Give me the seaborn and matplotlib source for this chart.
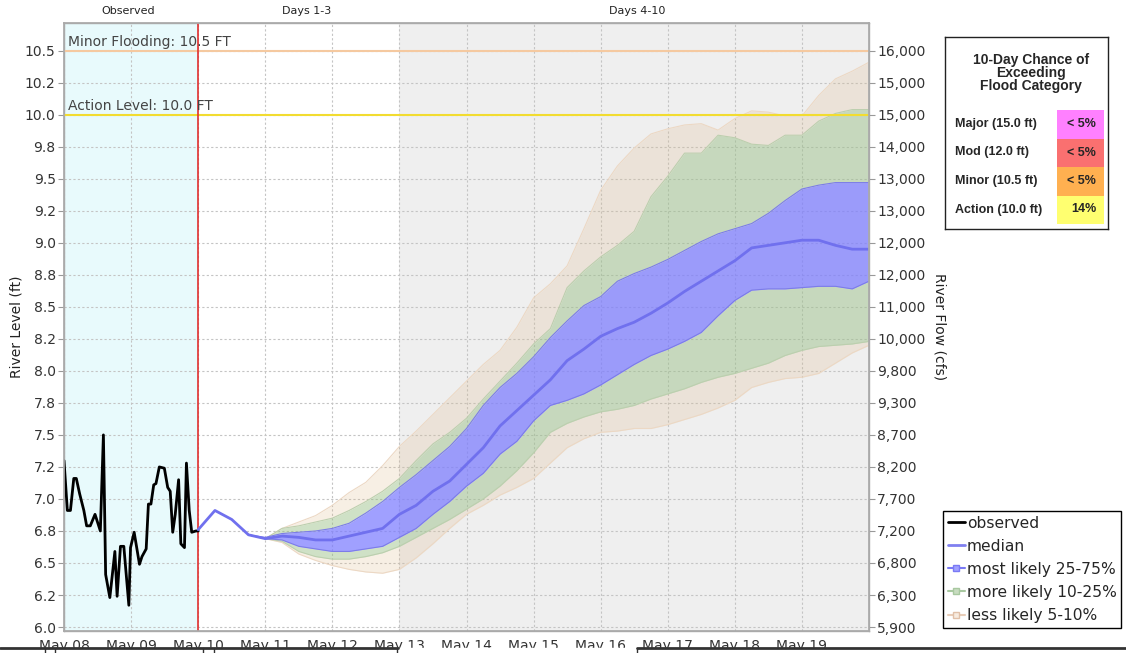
import pandas as pd
import numpy as np
import matplotlib
matplotlib.use("Agg")
import matplotlib.pyplot as plt
import matplotlib.dates as mdates
from matplotlib.patches import Rectangle
from matplotlib.lines import Line2D
import seaborn as sns

sns.set_theme(style="white")
plt.rcParams["font.family"] = ["DejaVu Sans"]

obs_start = pd.Timestamp("2024-05-08")
obs_hours = [0, 1.2, 2.3, 3.5, 4.4, 5.6, 7.1, 8.1, 9.4, 11.1, 13.0, 14.1, 14.9, 16.4,
             18.2, 19.0, 20.2, 21.4, 23.2, 23.8, 25.1, 27.0, 27.9, 29.4, 30.2, 31.1,
             32.1, 32.9, 34.1, 35.9, 37.1, 38.0, 38.9, 39.8, 41.0, 41.8, 43.1, 43.8,
             44.8, 45.7, 47.2, 48.0]
obs_level = [7.30, 6.91, 6.91, 7.16, 7.16, 7.04, 6.91, 6.79, 6.79, 6.88, 6.75, 7.50,
             6.41, 6.23, 6.59, 6.24, 6.63, 6.63, 6.17, 6.62, 6.74, 6.49, 6.55, 6.61,
             6.96, 6.96, 7.11, 7.12, 7.25, 7.24, 7.09, 7.06, 6.74, 6.88, 7.15, 6.65,
             6.62, 7.28, 6.91, 6.74, 6.75, 6.75]

fc_start = pd.Timestamp("2024-05-10")
median = [6.76, 6.91, 6.84, 6.72, 6.69, 6.71, 6.70, 6.68, 6.68, 6.71, 6.74, 6.77,
          6.88, 6.95, 7.06, 7.14, 7.27, 7.40, 7.57, 7.69, 7.81, 7.93, 8.08, 8.17,
          8.27, 8.33, 8.38, 8.45, 8.53, 8.62, 8.70, 8.78, 8.86, 8.96, 8.98, 9.00,
          9.02, 9.02, 8.98, 8.95, 8.95]

# bands begin at May 10 18:00 (4th forecast step)
p95 = [6.72, 6.69, 6.77, 6.82, 6.87, 6.95, 7.05, 7.13, 7.26, 7.41, 7.53, 7.66, 7.79,
       7.92, 8.05, 8.16, 8.34, 8.57, 8.68, 8.82, 9.11, 9.41, 9.60, 9.74, 9.85, 9.89,
       9.92, 9.93, 9.88, 9.97, 10.03, 10.02, 9.99, 9.99, 10.15, 10.28, 10.34, 10.41]
p90 = [6.72, 6.69, 6.77, 6.79, 6.82, 6.85, 6.91, 6.98, 7.06, 7.16, 7.30, 7.43, 7.52,
       7.63, 7.78, 7.92, 8.06, 8.21, 8.33, 8.65, 8.78, 8.89, 8.98, 9.09, 9.36, 9.52,
       9.70, 9.70, 9.84, 9.82, 9.77, 9.76, 9.84, 9.84, 9.95, 10.01, 10.04, 10.04]
p75 = [6.72, 6.70, 6.73, 6.74, 6.75, 6.77, 6.81, 6.89, 6.98, 7.09, 7.19, 7.30, 7.41,
       7.55, 7.73, 7.87, 7.98, 8.11, 8.26, 8.39, 8.51, 8.58, 8.70, 8.76, 8.81, 8.87,
       8.94, 9.01, 9.07, 9.11, 9.15, 9.23, 9.33, 9.42, 9.45, 9.47, 9.47, 9.47]
p25 = [6.72, 6.69, 6.68, 6.63, 6.61, 6.59, 6.59, 6.61, 6.63, 6.70, 6.77, 6.88, 6.98,
       7.10, 7.20, 7.35, 7.45, 7.61, 7.73, 7.77, 7.82, 7.89, 7.97, 8.05, 8.12, 8.17,
       8.23, 8.30, 8.43, 8.55, 8.63, 8.64, 8.64, 8.65, 8.66, 8.66, 8.64, 8.70]
p10 = [6.72, 6.69, 6.67, 6.59, 6.55, 6.53, 6.53, 6.55, 6.58, 6.63, 6.70, 6.77, 6.84,
       6.92, 7.00, 7.10, 7.22, 7.36, 7.52, 7.59, 7.64, 7.68, 7.70, 7.73, 7.78, 7.82,
       7.86, 7.91, 7.95, 7.98, 8.02, 8.06, 8.12, 8.16, 8.19, 8.20, 8.21, 8.23]
p05 = [6.72, 6.69, 6.66, 6.57, 6.52, 6.48, 6.45, 6.43, 6.42, 6.45, 6.54, 6.65, 6.77,
       6.88, 6.95, 7.03, 7.09, 7.16, 7.28, 7.40, 7.47, 7.52, 7.53, 7.55, 7.55, 7.58,
       7.62, 7.66, 7.71, 7.77, 7.87, 7.91, 7.94, 7.95, 7.98, 8.06, 8.14, 8.20]

level_ticks = np.arange(6.0, 10.51, 0.25)
flow_labels = ["5,900", "6,300", "6,800", "7,200", "7,700", "8,200", "8,700", "9,300",
               "9,800", "10,000", "11,000", "12,000", "12,000", "13,000", "13,000",
               "14,000", "15,000", "15,000", "16,000"]

minor_flood = 10.5
action_level = 10.0

cat_labels = ["Major (15.0 ft)", "Mod (12.0 ft)", "Minor (10.5 ft)", "Action (10.0 ft)"]
cat_chance = ["< 5%", "< 5%", "< 5%", "14%"]
cat_colors = ["#ff80ff", "#fa7070", "#ffb050", "#ffff70"]

# ---- frames ----
obs = pd.DataFrame({"time": obs_start + pd.to_timedelta(obs_hours, unit="h"),
                    "level": obs_level})
fc_time = pd.date_range(fc_start, periods=len(median), freq="6h")
fc = pd.DataFrame({"time": fc_time, "level": median})
bt = fc_time[len(median) - len(p95):]

fig = plt.figure(figsize=(11.26, 6.53), dpi=100)
ax = fig.add_axes([64 / 1126, 1 - 631 / 653, (869 - 64) / 1126, (631 - 23) / 653])

t0 = pd.Timestamp("2024-05-08")
t_now = pd.Timestamp("2024-05-10")
t_d4 = pd.Timestamp("2024-05-13")
t_end = pd.Timestamp("2024-05-20")

ax.axvspan(t0, t_now, color="#e8fafc", lw=0, zorder=0)
ax.axvspan(t_d4, t_end, color="#efefef", lw=0, zorder=0)
ax.set_axisbelow(True)
ax.grid(True, linestyle=(0, (2, 2)), color="#c4c4c4", lw=0.8)

# probability bands
tan, green, blue = "#deb887", "#96be82", "#7b7bff"
ax.fill_between(bt, p05, p10, color=tan, alpha=0.22, lw=0, zorder=2)
ax.fill_between(bt, p90, p95, color=tan, alpha=0.22, lw=0, zorder=2)
ax.fill_between(bt, p10, p25, color=green, alpha=0.45, lw=0, zorder=2)
ax.fill_between(bt, p75, p90, color=green, alpha=0.45, lw=0, zorder=2)
ax.fill_between(bt, p25, p75, color=blue, alpha=0.72, lw=0, zorder=2)
for s, c in [(p05, "#ecd8c4"), (p95, "#ecd8c4"), (p10, "#bccfae"), (p90, "#bccfae"),
             (p25, "#7c7ce8"), (p75, "#7c7ce8")]:
    ax.plot(bt, s, color=c, lw=0.8, zorder=3)

ax.axhline(minor_flood, color="#f5c9a0", lw=1.5, zorder=3)
ax.axhline(action_level, color="#f2dc30", lw=1.5, zorder=3)
ax.axvline(t_now, color="#e03030", lw=1.2, zorder=4)

sns.lineplot(data=obs, x="time", y="level", color="black", lw=2, ax=ax, zorder=5)
sns.lineplot(data=fc, x="time", y="level", color="#7070ee", lw=2, ax=ax, zorder=5)

ax.text(t0 + pd.Timedelta(hours=1.4), minor_flood + 0.015, "Minor Flooding: 10.5 FT",
        fontsize=10, color="#444444", va="bottom", zorder=6)
ax.text(t0 + pd.Timedelta(hours=1.4), action_level + 0.015, "Action Level: 10.0 FT",
        fontsize=10, color="#444444", va="bottom", zorder=6)

xt = ax.get_xaxis_transform()
for lab, d in [("Observed", 0.955), ("Days 1-3", 3.62), ("Days 4-10", 8.55)]:
    ax.text(t0 + pd.Timedelta(days=d), 1.02, lab, transform=xt, ha="center",
            va="center", fontsize=8, color="#222222")

ax.set_xlim(t0, t_end)
ax.set_ylim(5.969, 10.716)
ax.set_xticks(pd.date_range(t0, "2024-05-19", freq="D"))
ax.xaxis.set_major_formatter(mdates.DateFormatter("%b %d"))
ax.set_yticks(level_ticks)
ax.set_yticklabels([f"{v:.1f}" for v in level_ticks])
ax.set_xlabel("")
ax.set_ylabel("River Level (ft)", fontsize=10, color="#222222", labelpad=1)
ax.tick_params(axis="both", direction="out", length=4, width=0.8, color="#999999",
               labelsize=10, labelcolor="#333333", pad=2)
for sp in ax.spines.values():
    sp.set_color("#aaaaaa")
    sp.set_linewidth(1)

ax2 = ax.twinx()
ax2.set_ylim(ax.get_ylim())
ax2.set_yticks(level_ticks)
ax2.set_yticklabels(flow_labels)
ax2.set_ylabel("River Flow (cfs)", fontsize=10, color="#222222", rotation=270,
               labelpad=15)
ax2.tick_params(axis="y", direction="out", length=4, width=0.8, color="#999999",
                labelsize=10, labelcolor="#333333", pad=2)
ax2.grid(False)
for sp in ax2.spines.values():
    sp.set_color("#aaaaaa")

# legend
handles = [
    Line2D([], [], color="black", lw=2),
    Line2D([], [], color="#8080f0", lw=2),
    Line2D([], [], color="#7a7af5", lw=1.5, marker="s", ms=5, mfc="#a0a0ff", mec="#7a7af5"),
    Line2D([], [], color="#a8c8a0", lw=1.5, marker="s", ms=5, mfc="#c8dcc0", mec="#a8c8a0"),
    Line2D([], [], color="#e8cdb8", lw=1.5, marker="s", ms=5, mfc="#f7ebdf", mec="#e0c0a8"),
]
leg = fig.legend(handles, ["observed", "median", "most likely 25-75%",
                           "more likely 10-25%", "less likely 5-10%"],
                 loc="upper left", bbox_to_anchor=(943 / 1126, 1 - 511 / 653),
                 bbox_transform=fig.transFigure, fontsize=11.2, frameon=True,
                 fancybox=False, edgecolor="black", framealpha=1, borderpad=0.3,
                 handlelength=1.1, handletextpad=0.12, labelspacing=0.52,
                 borderaxespad=0)
leg.get_frame().set_linewidth(1)

# flood category table
tab = fig.add_axes([945 / 1126, 1 - 229 / 653, 163 / 1126, 192 / 653])
tab.set_xlim(0, 163)
tab.set_ylim(192, 0)
tab.set_xticks([])
tab.set_yticks([])
for sp in tab.spines.values():
    sp.set_color("#222222")
    sp.set_linewidth(1)
tab.text(86, 36, "10-Day Chance of\nExceeding\nFlood Category", ha="center",
         va="center", fontsize=10, fontweight="bold", family="Liberation Sans",
         linespacing=0.95)
for i, (lab, ch, col) in enumerate(zip(cat_labels, cat_chance, cat_colors)):
    y0 = 73 + i * 28.5
    tab.add_patch(Rectangle((112, y0), 47, 28.5, color=col, lw=0))
    tab.text(10, y0 + 14, lab, ha="left", va="center", fontsize=9, fontweight="bold",
             family="Liberation Sans")
    tab.text(151, y0 + 14, ch, ha="right", va="center", fontsize=9, fontweight="bold",
             family="Liberation Sans")

# bottom border of the page below the chart
fig.add_artist(Rectangle((0, 0), 1, 5.5 / 653, transform=fig.transFigure,
                         color="white", zorder=20))
yb = 5 / 653
for xa, xb in [(0, 398), (637, 1126)]:
    fig.add_artist(Line2D([xa / 1126, xb / 1126], [yb, yb], color="#333333", lw=2,
                          transform=fig.transFigure, zorder=21))
for xv in [44.5, 55, 203, 214, 397, 637]:
    fig.add_artist(Line2D([xv / 1126, xv / 1126], [0, yb], color="#333333", lw=1,
                          transform=fig.transFigure, zorder=21))

fig.savefig("out.png", dpi=100)
